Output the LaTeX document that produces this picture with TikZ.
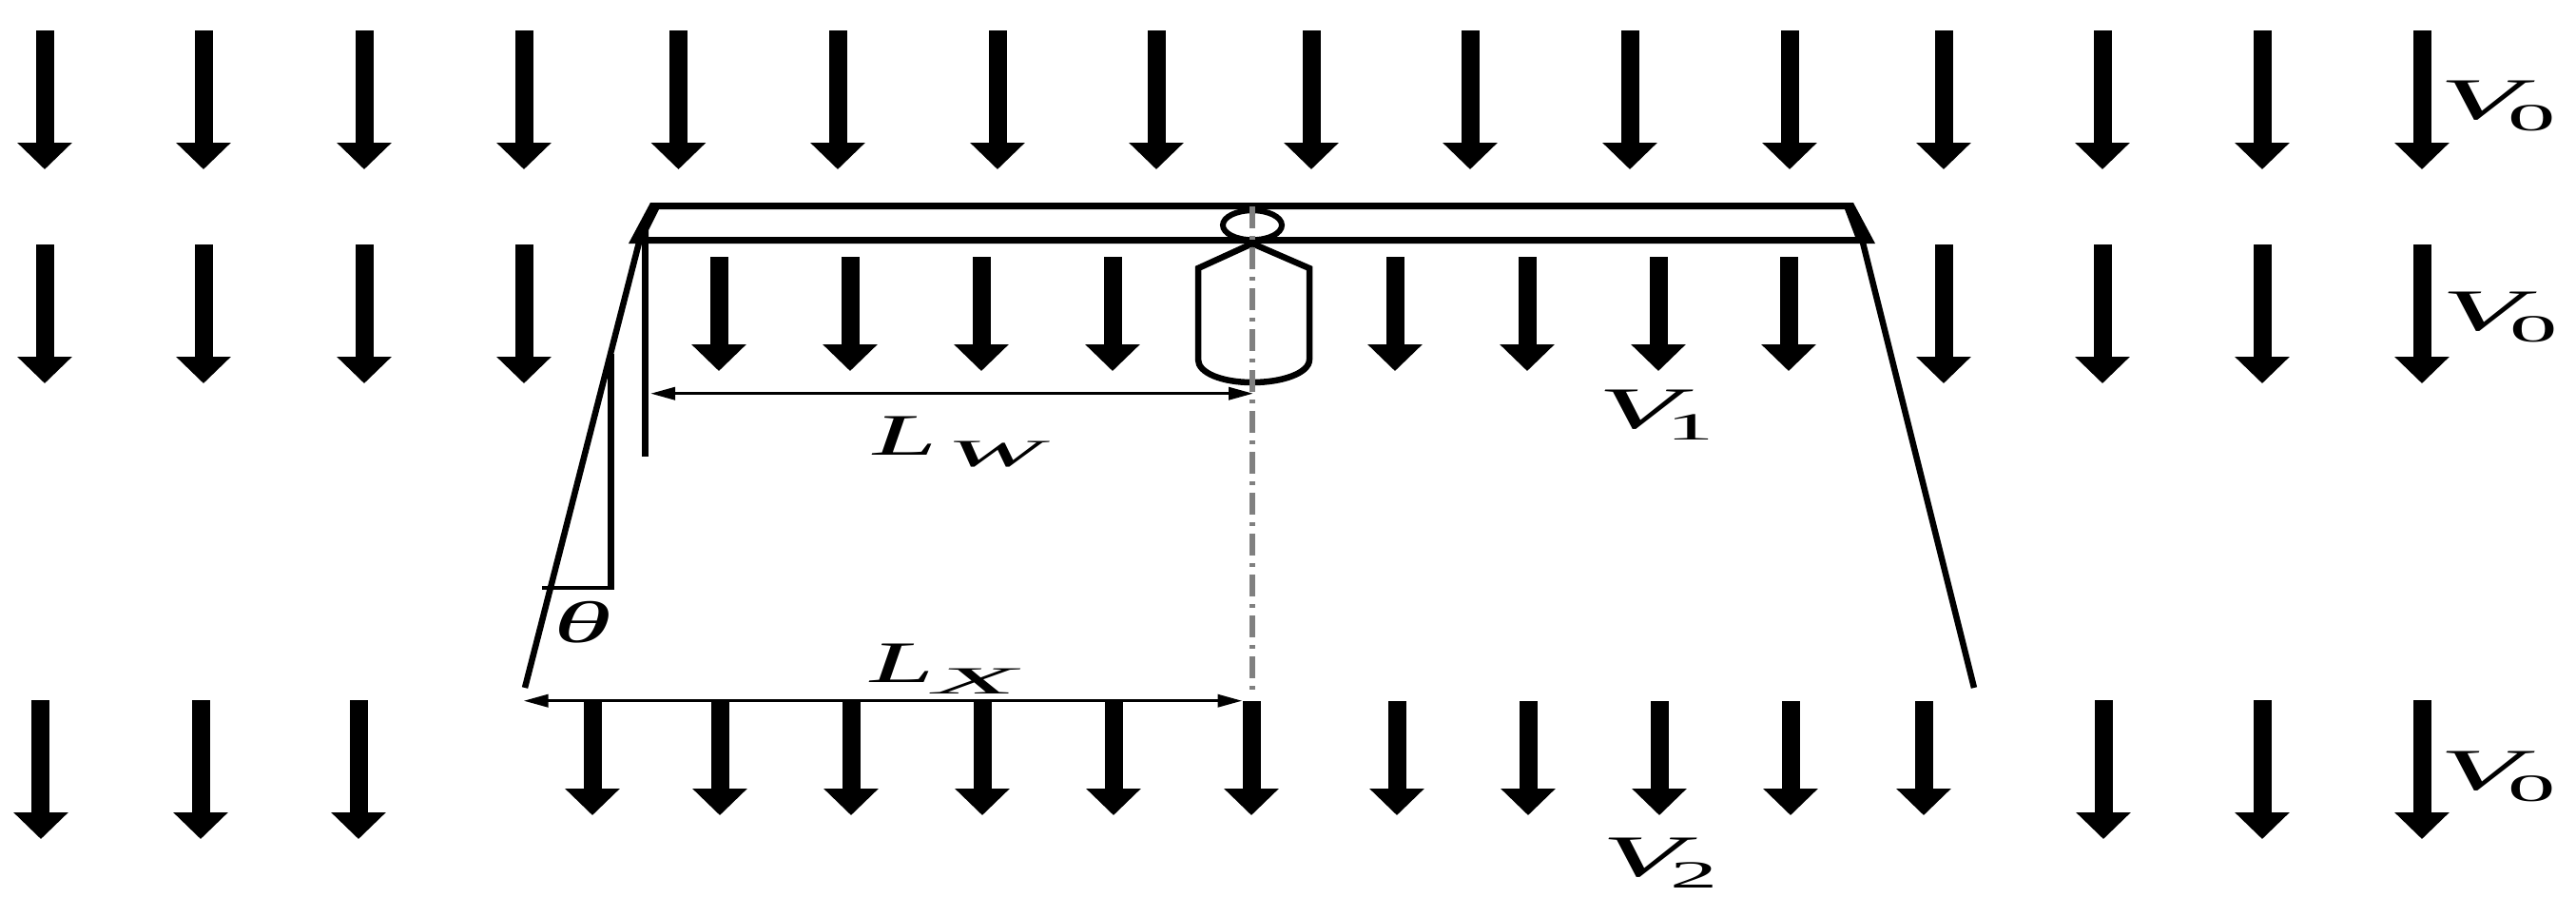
\documentclass[tikz,border=0pt]{standalone}
\usepackage{fontspec}
\setmainfont{Liberation Serif}
\usetikzlibrary{arrows.meta, positioning}
\newcommand{\symsub}[4]{\textit{#1}\hspace{#4}\raisebox{-.12cm}{\fontsize{11.5pt}{12pt}\selectfont\scalebox{#3}[1]{#2}}}
\tikzset{
    flow/.style={line width=.19cm, -{Triangle[length=.28cm,width=.56cm]}},
    leg/.style={line width=.065cm},
    dim/.style={line width=.035cm, {Triangle[length=.26cm,width=.13cm]}-{Triangle[length=.26cm,width=.13cm]}},
    lbl/.style={anchor=base west, inner sep=0pt, font=\fontsize{17.6pt}{18pt}\selectfont}
}
\begin{document}
\begin{tikzpicture}[x=1cm,y=-1cm]
    \useasboundingbox (0,0) rectangle (27.09,9.63);
    \foreach \x in {.47,2.14,3.83,5.51,7.135,8.81,10.49,12.16,13.79,15.46,17.14,18.82,20.44,22.11,23.79,25.47}
        \draw[flow] (\x,.32) -- (\x,1.78);
    \foreach \x in {.47,2.14,3.83,5.51,20.44,22.11,23.79,25.47}
        \draw[flow] (\x,2.57) -- (\x,4.03);
    \foreach \x in {7.56,8.94,10.32,11.70,14.67,16.06,17.44,18.81}
        \draw[flow] (\x,2.70) -- (\x,3.90);
    \foreach \x in {.43,2.11,3.77,22.12,23.79,25.47}
        \draw[flow] (\x,7.36) -- (\x,8.82);
    \foreach \x in {6.23,7.57,8.95,10.33,11.71,13.16,14.69,16.07,17.45,18.83,20.23}
        \draw[flow] (\x,7.37) -- (\x,8.57);

    \fill[even odd rule] (6.84,2.13) -- (19.49,2.13) -- (19.72,2.56) -- (6.61,2.56) -- cycle
        (6.93,2.20) -- (19.40,2.20) -- (19.51,2.49) -- (6.82,2.49) -- (6.82,2.42) -- cycle;
    \draw[leg] (6.72,2.55) -- (5.52,7.23);
    \draw[leg] (19.59,2.55) -- (20.76,7.23);
    \draw[leg] (6.785,2.55) -- (6.785,4.80);
    \draw[line width=.07cm] (6.42,3.72) -- (6.42,6.18);
    \draw[line width=.04cm] (5.70,6.18) -- (6.455,6.18);

    \draw[line width=.06cm] (13.17,2.367) ellipse (.31cm and .155cm);
    \draw[line width=.065cm] (13.17,2.56) -- (12.60,2.82) -- (12.60,3.78)
        .. controls (12.60,3.92) and (12.85,4.02) .. (13.17,4.02)
        .. controls (13.49,4.02) and (13.77,3.92) .. (13.77,3.78)
        -- (13.77,2.82) -- cycle;
    \coordinate (top) at (13.17,2.17);
    \coordinate (foot) at (13.17,7.29);
    \draw[gray, line width=.065cm, dash pattern=on .23cm off .08cm on .04cm off .08cm] (top) -- (foot);

    \coordinate (wleft) at (6.84,4.137);
    \coordinate (wright) at (13.18,4.137);
    \coordinate (xleft) at (5.505,7.367);
    \coordinate (xright) at (13.065,7.367);
    \draw[dim] (wleft) -- (wright);
    \draw[dim] (xleft) -- (xright);

    \node[lbl, xscale=1.95] (lw) at (9.17,4.78) {\symsub{L}{\textit{W}}{1.52}{.05cm}};
    \node[lbl, xscale=1.95] (lx) at (9.14,7.17) {\symsub{L}{\textit{X}}{1.8}{0cm}};
    \node[lbl, xscale=2] (theta) at (5.81,6.75) {\textit{θ}};
    \node[lbl, xscale=2.3] (vtop) at (25.64,1.25) {\symsub{V}{0}{1.08}{-.126cm}};
    \node[lbl, xscale=2.3] (vmid) at (25.66,3.47) {\symsub{V}{0}{1.08}{-.126cm}};
    \node[lbl, xscale=2.3] (vbot) at (25.64,8.30) {\symsub{V}{0}{1.08}{-.126cm}};
    \node[lbl, xscale=2.3] (vone) at (16.79,4.50) {\symsub{V}{1}{1.08}{-.126cm}};
    \node[lbl, xscale=2.3] (vtwo) at (16.83,9.21) {\symsub{V}{2}{1.08}{-.126cm}};
\end{tikzpicture}
\end{document}
